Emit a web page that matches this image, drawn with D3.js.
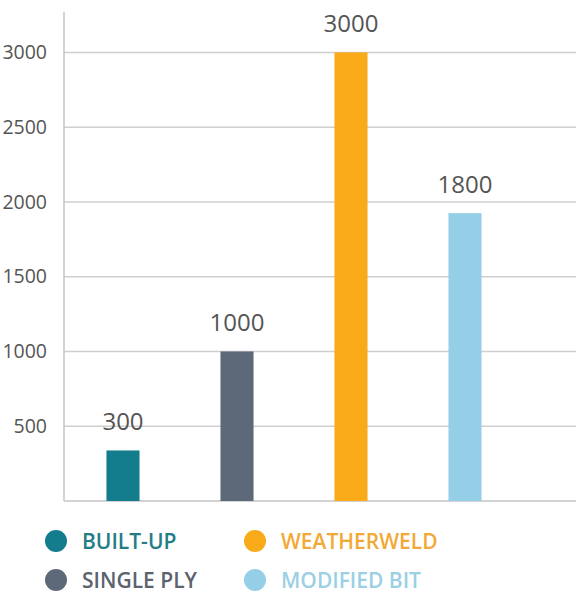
<!DOCTYPE html>
<html>
<head>
<meta charset="utf-8">
<script src="https://cdn.jsdelivr.net/npm/d3@7"></script>
<style>
  body { margin: 0; background: #fff; }
  svg { display: block; font-family: "Open Sans", sans-serif; }
</style>
</head>
<body>
<div id="chart"></div>
<script>
// data
var categories = ["BUILT-UP", "SINGLE PLY", "WEATHERWELD", "MODIFIED BIT"];
var barValues = [338, 1000, 3000, 1925];      // drawn heights
var barLabels = ["300", "1000", "3000", "1800"]; // printed numbers
var yTicks = [500, 1000, 1500, 2000, 2500, 3000];
var colors = ["#137c8d", "#5d6878", "#f9aa19", "#94cfe7"];
var textColors = ["#247d86", "#5a636e", "#f2a936", "#9bcfe3"];

var fullWidth = 576, fullHeight = 593;
var axisX = 64, rightX = 576, baseY = 501, topY = 12;

var svg = d3.select("#chart")
            .append("svg")
            .attr("width", fullWidth)
            .attr("height", fullHeight);

var yScale = d3.scaleLinear().domain([0, 3270]).range([baseY, topY]);
var xScale = d3.scaleBand().domain(categories).range([66, 522])
               .paddingInner(0.71).paddingOuter(0.355);

// gridlines
svg.append("g").selectAll("line")
   .data(yTicks)
   .enter().append("line")
   .attr("x1", axisX).attr("x2", rightX)
   .attr("y1", function(d){ return yScale(d); })
   .attr("y2", function(d){ return yScale(d); })
   .attr("stroke", "#cfcfcf").attr("stroke-width", 1.5);

// baseline + vertical axis
svg.append("line")
   .attr("x1", axisX).attr("x2", rightX)
   .attr("y1", yScale(0)).attr("y2", yScale(0))
   .attr("stroke", "#c4c4c4").attr("stroke-width", 1.5);
svg.append("line")
   .attr("x1", axisX).attr("x2", axisX)
   .attr("y1", yScale(0)).attr("y2", topY)
   .attr("stroke", "#c4c4c4").attr("stroke-width", 1.5);

// y tick labels
var yAxis = d3.axisLeft(yScale).tickValues(yTicks).tickSize(0).tickPadding(17)
              .tickFormat(d3.format("d"));
var ya = svg.append("g").attr("transform", "translate(" + axisX + ",0)").call(yAxis);
ya.select(".domain").remove();
ya.selectAll("text")
  .attr("fill", "#555")
  .style("font-size", "19.5px")
  .style("font-family", "'Open Sans', sans-serif");

// bars
svg.append("g").selectAll("rect")
   .data(categories)
   .enter().append("rect")
   .attr("x", function(d){ return xScale(d); })
   .attr("width", xScale.bandwidth())
   .attr("y", function(d, i){ return yScale(barValues[i]); })
   .attr("height", function(d, i){ return yScale(0) - yScale(barValues[i]); })
   .attr("fill", function(d, i){ return colors[i]; });

// value labels
svg.append("g").selectAll("text")
   .data(categories)
   .enter().append("text")
   .attr("x", function(d){ return xScale(d) + xScale.bandwidth() / 2; })
   .attr("y", function(d, i){ return yScale(barValues[i]) - 20; })
   .attr("text-anchor", "middle")
   .attr("fill", "#555")
   .style("font-size", "24px")
   .text(function(d, i){ return barLabels[i]; });

// legend (order: column by column)
var legend = svg.append("g").selectAll("g")
   .data(categories)
   .enter().append("g")
   .attr("transform", function(d, i){
       var col = Math.floor(i / 2), row = i % 2;
       return "translate(" + (56 + col * 199) + "," + (541 + row * 39) + ")";
   });
legend.append("circle")
   .attr("r", 11)
   .attr("fill", function(d, i){ return colors[i]; });
legend.append("text")
   .attr("x", 26).attr("y", 7.5)
   .attr("fill", function(d, i){ return textColors[i]; })
   .style("font-size", "21px")
   .style("font-weight", 600)
   .text(function(d){ return d; });
</script>
</body>
</html>
